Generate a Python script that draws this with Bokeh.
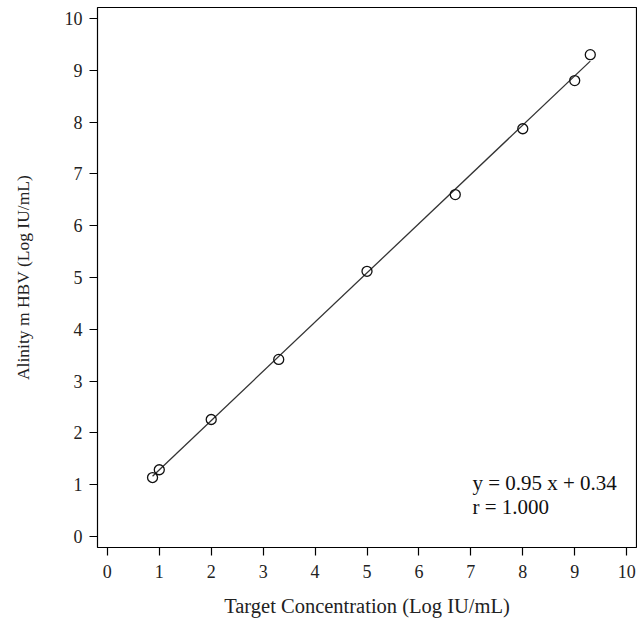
from bokeh.plotting import figure
from bokeh.models import Range1d, FixedTicker, Label, ColumnDataSource
from bokeh.embed import file_html
from bokeh.resources import INLINE

# Data
target_conc = [0.87, 1.0, 2.0, 3.3, 5.0, 6.7, 8.0, 9.0, 9.3]
measured = [1.14, 1.29, 2.26, 3.42, 5.12, 6.60, 7.87, 8.80, 9.30]
slope = 0.95
intercept = 0.34
x_ticks = [0, 1, 2, 3, 4, 5, 6, 7, 8, 9, 10]
y_ticks = [0, 1, 2, 3, 4, 5, 6, 7, 8, 9, 10]
x_title = "Target Concentration (Log IU/mL)"
y_title = "Alinity m HBV (Log IU/mL)"
eq_text = "y = 0.95 x + 0.34"
r_text = "r = 1.000"

FONT = "Liberation Serif"

p = figure(width=637, height=628, output_backend="svg", toolbar_location=None,
           x_range=Range1d(-0.19, 10.19), y_range=Range1d(-0.21, 10.21),
           min_border_left=97, min_border_right=1, min_border_top=7, min_border_bottom=81)

p.grid.visible = False
p.outline_line_color = "black"
p.outline_line_width = 1.2
p.background_fill_color = "white"
p.border_fill_color = "white"

for ax, ticks in ((p.xaxis[0], x_ticks), (p.yaxis[0], y_ticks)):
    ax.ticker = FixedTicker(ticks=ticks)
    ax.axis_line_color = None
    ax.major_tick_line_color = "black"
    ax.major_tick_line_width = 1.2
    ax.major_tick_in = 0
    ax.major_tick_out = 8
    ax.minor_tick_line_color = None
    ax.major_label_text_font = FONT
    ax.major_label_text_font_size = "18px"
    ax.major_label_text_color = "#222222"
    ax.axis_label_text_font = FONT
    ax.axis_label_text_font_style = "normal"
    ax.axis_label_text_color = "#222222"

p.xaxis.axis_label = x_title
p.xaxis.axis_label_text_font_size = "20.5px"
p.xaxis.major_label_standoff = 9
p.yaxis.major_label_standoff = 7
p.xaxis.axis_label_standoff = 14

p.yaxis.axis_label = y_title
p.yaxis.axis_label_text_font_size = "17.5px"
p.yaxis.axis_label_standoff = 29

# Regression line over the range of the data
xmin, xmax = min(target_conc), max(target_conc)
line_src = ColumnDataSource(dict(x=[xmin, xmax],
                                 y=[slope * xmin + intercept, slope * xmax + intercept]))
p.line("x", "y", source=line_src, line_color="#333333", line_width=1.3)

pts = ColumnDataSource(dict(x=target_conc, y=measured))
p.scatter("x", "y", source=pts, size=10, marker="circle", fill_color=None,
          line_color="#111111", line_width=1.3)

p.add_layout(Label(x=7.03, y=1.04, text=eq_text, text_font=FONT, text_font_size="21px",
                   text_color="#111111", text_baseline="alphabetic"))
p.add_layout(Label(x=7.03, y=0.58, text=r_text, text_font=FONT, text_font_size="21px",
                   text_color="#111111", text_baseline="alphabetic"))

open("out.html", "w").write(file_html(p, INLINE))
